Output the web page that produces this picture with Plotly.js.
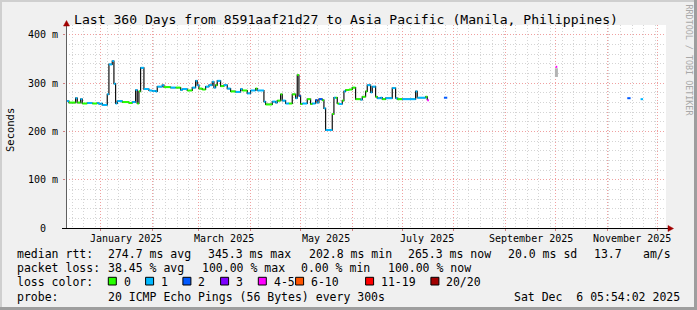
<!DOCTYPE html>
<html><head><meta charset="utf-8">
<script src="https://cdn.plot.ly/plotly-3.0.1.min.js"></script>
<style>html,body{margin:0;padding:0;background:#f0f0f0;overflow:hidden}#chart{width:697px;height:310px}</style>
</head><body><div id="chart"></div>
<script>
// ---- data ----
const dates = ['2024-12-11','2024-12-13','2024-12-17','2024-12-18','2024-12-20','2024-12-21','2024-12-24','2024-12-27','2024-12-30','2024-12-31',
'2025-01-01','2025-01-02','2025-01-05','2025-01-06','2025-01-08','2025-01-09','2025-01-10','2025-01-11','2025-01-14','2025-01-18','2025-01-20','2025-01-22','2025-01-23','2025-01-24','2025-01-25','2025-01-27','2025-01-30',
'2025-02-01','2025-02-03','2025-02-04','2025-02-07','2025-02-08','2025-02-12','2025-02-15','2025-02-18','2025-02-19','2025-02-22','2025-02-25','2025-02-27','2025-02-28',
'2025-03-01','2025-03-03','2025-03-05','2025-03-07','2025-03-09','2025-03-10','2025-03-11','2025-03-12','2025-03-14','2025-03-16','2025-03-18','2025-03-20','2025-03-23','2025-03-26','2025-03-27','2025-03-30',
'2025-04-01','2025-04-04','2025-04-05','2025-04-09','2025-04-10','2025-04-14','2025-04-16','2025-04-17','2025-04-19','2025-04-20','2025-04-22','2025-04-24','2025-04-26','2025-04-28','2025-04-29','2025-04-30',
'2025-05-01','2025-05-02','2025-05-05','2025-05-07','2025-05-08','2025-05-10','2025-05-11','2025-05-12','2025-05-14','2025-05-15','2025-05-16','2025-05-20','2025-05-21','2025-05-22','2025-05-23','2025-05-24','2025-05-26','2025-05-27','2025-05-28','2025-05-30',
'2025-06-01','2025-06-03','2025-06-06','2025-06-07','2025-06-09','2025-06-10','2025-06-12','2025-06-13','2025-06-15','2025-06-16','2025-06-18','2025-06-19','2025-06-21','2025-06-25','2025-06-27','2025-06-28',
'2025-07-01','2025-07-09','2025-07-10','2025-07-15','2025-07-16','2025-07-17',
'2025-07-26','2025-07-28','2025-10-01','2025-10-02','2025-11-13','2025-11-15','2025-11-21','2025-11-22 12:00'];
const rttMs = [263,260,269,260,267,258,259,258,259,257,
258,255,277,339,346,299,258,263,261,259,261,286,258,283,332,288,285,
284,283,293,296,292,291,291,286,288,285,291,305,296,
289,287,293,296,303,291,296,305,294,296,289,283,282,288,285,279,
285,289,285,262,256,262,260,264,277,264,258,258,277,269,317,274,
257,258,267,257,258,265,260,267,265,248,203,236,270,270,258,257,264,283,286,287,
291,267,266,272,283,296,281,293,272,269,270,267,269,290,269,267,
267,283,270,272,265,null,
270,null,334,null,269,null,267,null];
const lossBand = [1,0,1,0,1,0,1,0,1,1,
1,1,1,1,1,1,1,1,0,0,1,1,0,0,1,1,1,
1,1,1,1,0,1,0,1,1,0,1,1,1,
0,0,1,1,1,1,0,1,0,1,1,0,1,1,0,1,
1,0,1,1,0,1,1,0,0,1,1,0,0,1,0,2,
0,1,0,0,1,2,1,2,0,1,1,0,1,0,0,1,0,1,0,0,
0,0,1,0,0,1,1,1,0,1,1,0,1,1,1,0,
1,1,1,0,4,0,
2,0,4,0,2,0,1,0];
const smokeDates = ['2025-10-01 12:00'];
const smokeLow = [313];
const smokeHigh = [331];
const lossLabels = ['0','1','2','3','4-5','6-10','11-19','20/20'];
const lossColors = ['#26ff00','#00b8ff','#0059ff','#7e00ff','#ff00ff','#ff5500','#ff0000','#a10000'];
const labelDates = ['2025-01-16','2025-03-16','2025-05-16','2025-07-16','2025-09-16','2025-11-16'];
const labelText = ['January 2025','March 2025','May 2025','July 2025','September 2025','November 2025'];
const yTickVals = [0,100,200,300,400];
const yTickText = ['0\u00a0\u00a0','100 m','200 m','300 m','400 m'];
const titleText = 'Last 360 Days from 8591aaf21d27 to Asia Pacific (Manila, Philippines)';
const rttRow = [['median rtt:',16],['274.7 ms avg',107.3],['345.3 ms max',207.3],['202.8 ms min',307.5],['265.3 ms now',407.3],['20.0 ms sd',507.3],['13.7',593.3],['am/s',641.7]];
const lossRow = [['packet loss:',16],['38.45 % avg',107.3],['100.00 % max',200.7],['0.00 % min',300],['100.00 % now',386.7]];
const probeRow = [['probe:',16],['20 ICMP Echo Pings (56 Bytes) every 300s',107.3],['Sat Dec  6 05:54:02 2025',513.3]];
const legendLabelX = [122.7,160,197.3,235,272.7,310,380,445.3];

// ---- geometry helpers ----
const L=66, T=25, PW=600, PH=203;
const fx = px => (px-L)/PW;
const fy = py => (T+PH-py)/PH;
const MONO = 'DejaVu Sans Mono';

const traces = [];
// smoke
traces.push({x:[smokeDates[0],smokeDates[0]], y:[smokeLow[0],smokeHigh[0]], mode:'lines', line:{color:'#b4b4b4',width:3}, hoverinfo:'skip'});
// black median connector
traces.push({x:dates, y:rttMs, mode:'lines', line:{shape:'hv',color:'#111',width:1.2}, connectgaps:false, hoverinfo:'skip'});
// coloured loss segments
for (let b=0;b<lossColors.length;b++){
  const xs=[], ys=[];
  for (let i=0;i<dates.length-1;i++){
    if (rttMs[i]!==null && lossBand[i]===b){ xs.push(dates[i],dates[i+1],null); ys.push(rttMs[i],rttMs[i],null); }
  }
  if (xs.length) traces.push({x:xs,y:ys,mode:'lines',line:{color:lossColors[b],width:2},hoverinfo:'skip'});
}

const ann = [];
const txt = (text,px,py,opt={}) => ann.push(Object.assign({text:text,xref:'paper',yref:'paper',x:fx(px-1),y:fy(py),xanchor:'left',yanchor:'middle',showarrow:false,font:{family:MONO,size:11.5,color:'#000'}},opt));
txt(titleText,72.7,19.5,{font:{family:MONO,size:13.1,color:'#000'}});
rttRow.forEach(r=>txt(r[0],r[1],254));
lossRow.forEach(r=>txt(r[0],r[1],268.3));
txt('loss color:',16,281.7);
lossLabels.forEach((l,i)=>txt(l,legendLabelX[i],281.7));
probeRow.forEach(r=>txt(r[0],r[1],296.7));
// y title and watermark
ann.push({text:'Seconds',xref:'paper',yref:'paper',x:fx(10),y:fy(130),xanchor:'center',yanchor:'middle',textangle:-90,showarrow:false,font:{family:MONO,size:10.5,color:'#000'}});
ann.push({text:'RRDTOOL / TOBI OETIKER',xref:'paper',yref:'paper',x:fx(688.5),y:fy(60),xanchor:'center',yanchor:'middle',textangle:90,showarrow:false,font:{family:MONO,size:8.4,color:'#a8a8a8'}});
// x tick labels at mid-month
labelDates.forEach((d,i)=>ann.push({text:labelText[i],xref:'x',yref:'paper',x:d,y:0,yanchor:'top',xanchor:'center',yshift:-3,showarrow:false,font:{family:MONO,size:10,color:'#000'}}));

const shapes = [];
// legend boxes
legendLabelX.forEach((lx,i)=>shapes.push({type:'rect',xref:'paper',yref:'paper',x0:fx(lx-14.4),x1:fx(lx-6.4),y0:fy(285),y1:fy(277.3),fillcolor:lossColors[i],line:{color:'#000',width:1}}));
// axes
shapes.push({type:'line',xref:'paper',yref:'paper',x0:fx(66.5),x1:fx(66.5),y0:fy(228),y1:fy(25),line:{color:'#606060',width:1}});
shapes.push({type:'line',xref:'paper',yref:'paper',x0:fx(62),x1:fx(669),y0:fy(228.5),y1:fy(228.5),line:{color:'#000',width:1}});
const px2 = (x,y)=>({x:fx(x),y:fy(y)});
function tri(pts){return 'M'+pts.map(p=>{const q=px2(p[0],p[1]);return q.x+','+q.y;}).join(' L')+' Z';}
shapes.push({type:'path',xref:'paper',yref:'paper',path:tri([[668,225.5],[673.5,228.5],[668,231.5]]),fillcolor:'#a00000',line:{color:'#a00000',width:0.5}});
shapes.push({type:'path',xref:'paper',yref:'paper',path:tri([[63.5,26],[66.5,20.5],[69.5,26]]),fillcolor:'#a00000',line:{color:'#a00000',width:0.5}});
// frame
shapes.push({type:'rect',xref:'paper',yref:'paper',x0:fx(0),x1:fx(697),y0:fy(2),y1:fy(0),fillcolor:'#cfcfcf',line:{width:0}});
shapes.push({type:'rect',xref:'paper',yref:'paper',x0:fx(0),x1:fx(2),y0:fy(310),y1:fy(0),fillcolor:'#cfcfcf',line:{width:0}});
shapes.push({type:'rect',xref:'paper',yref:'paper',x0:fx(0),x1:fx(697),y0:fy(310),y1:fy(307),fillcolor:'#9e9e9e',line:{width:0}});
shapes.push({type:'rect',xref:'paper',yref:'paper',x0:fx(694),x1:fx(697),y0:fy(310),y1:fy(0),fillcolor:'#9e9e9e',line:{width:0}});

const gridDash = '1px,2px';
const layout = {
  width:697, height:310, margin:{l:L,r:697-L-PW,t:T,b:310-T-PH,pad:0},
  paper_bgcolor:'#f0f0f0', plot_bgcolor:'#ffffff', showlegend:false, hovermode:false,
  xaxis:{type:'date', range:['2024-12-11 05:54:02','2025-12-06 05:54:02'], tick0:'2025-01-01', dtick:'M1',
    showticklabels:false, ticks:'outside', ticklen:2, tickcolor:'#d08080',
    showgrid:true, gridcolor:'#f0a0a0', griddash:gridDash, gridwidth:1,
    minor:{tick0:'2024-12-15', dtick:7*86400000, showgrid:true, gridcolor:'#d4d4d4', griddash:gridDash, ticks:''},
    zeroline:false, showline:false, fixedrange:true},
  yaxis:{range:[0,420.7], tickvals:yTickVals, ticktext:yTickText, ticks:'outside', ticklen:2, tickcolor:'#d08080',
    tickfont:{family:MONO,size:10,color:'#000'}, ticklabelstandoff:3,
    showgrid:true, gridcolor:'#f0a0a0', griddash:gridDash, gridwidth:1,
    minor:{dtick:20, tick0:0, showgrid:true, gridcolor:'#d4d4d4', griddash:gridDash, ticks:''},
    zeroline:false, showline:false, fixedrange:true},
  annotations:ann, shapes:shapes
};
Plotly.newPlot('chart', traces, layout, {staticPlot:true, displayModeBar:false});
</script></body></html>
